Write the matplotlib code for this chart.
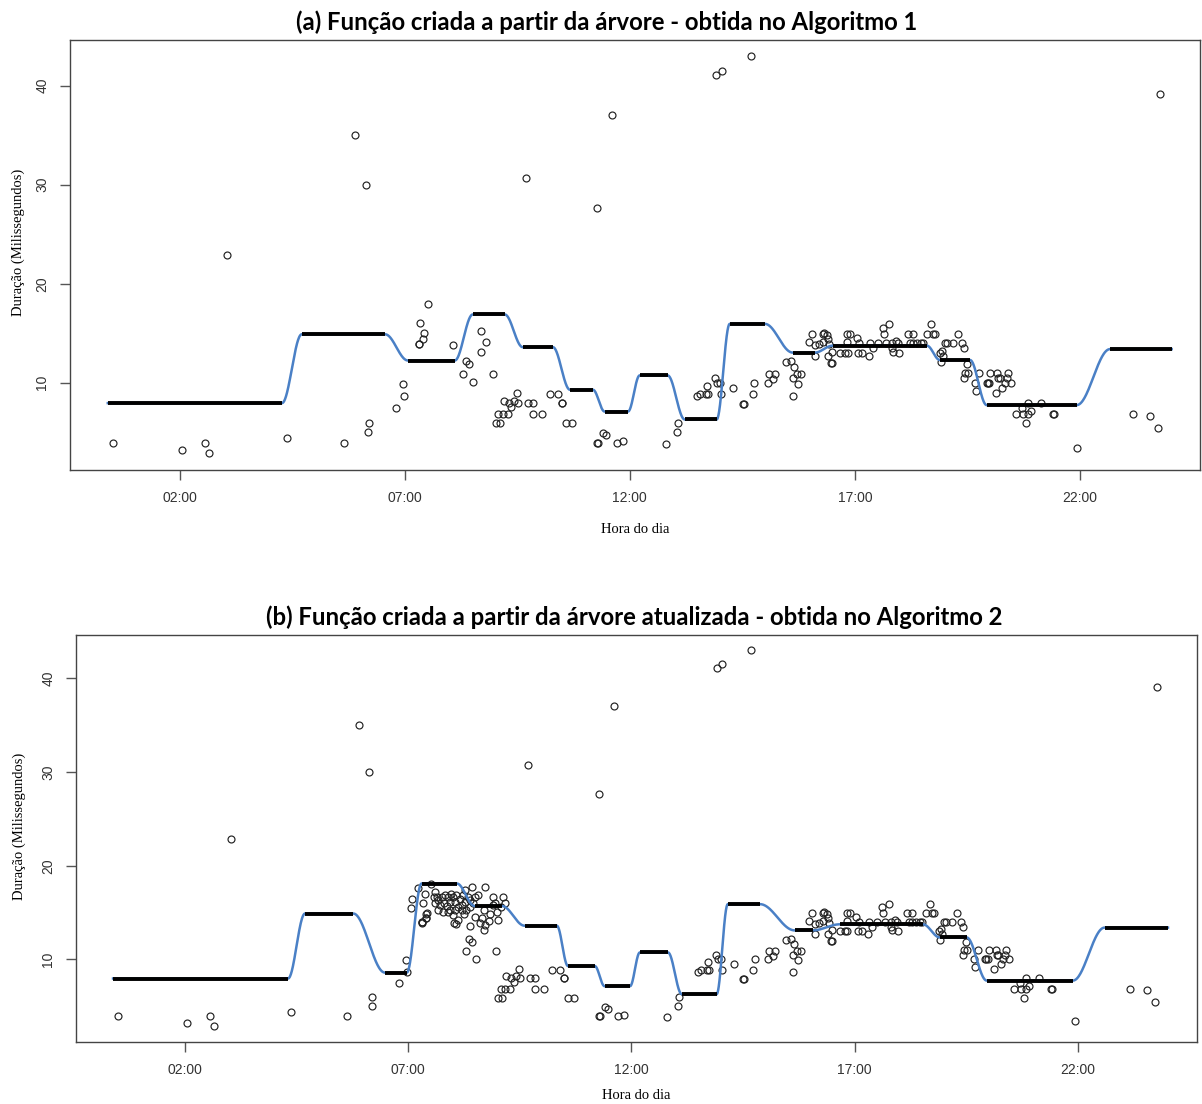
import numpy as np
import matplotlib
matplotlib.use("Agg")
import matplotlib.pyplot as plt

# ---------------------------------------------------------
# Observations: hour of day vs duration (ms)
# ---------------------------------------------------------
obs_hour = [
    0.51, 2.04, 2.56, 2.64, 3.04, 4.38, 5.64, 5.89, 6.13, 6.20, 6.18, 6.80, 6.98, 6.96,
    7.31, 7.31, 7.40, 7.42, 7.33, 7.51, 8.07,
    8.36, 8.42, 8.29, 8.51, 8.69, 8.80, 8.69, 8.96, 9.49,
    9.20, 9.31, 9.42, 9.51, 9.36, 9.07, 9.18, 9.29, 9.02, 9.11,
    9.73, 9.84, 9.84, 10.04, 10.22, 10.40, 10.49, 10.50, 10.58, 10.71,
    11.40, 11.47, 11.27, 11.29, 11.71, 11.84,
    12.80, 13.04, 13.07,
    13.49, 13.56, 13.69, 13.73, 13.71, 13.89, 13.93, 14.00, 14.02, 14.29,
    14.51, 14.53, 14.73, 14.76,
    15.07, 15.09, 15.22, 15.18,
    15.47, 15.58, 15.64, 15.62, 15.71, 15.80, 15.73, 15.62,
    16.04, 16.29, 15.98, 16.11, 16.20, 16.29, 16.40, 16.38, 16.42, 16.11, 16.40, 16.49, 16.47, 16.49, 16.31,
    16.82, 16.89, 16.82, 17.04, 17.09, 16.67, 16.78, 16.84, 17.07, 17.16, 17.31, 17.33, 17.40, 17.51,
    17.62, 17.64, 17.76, 17.69, 17.82, 17.91, 17.96, 17.84, 17.98, 17.82,
    18.18, 18.29, 18.22, 18.29, 18.38, 18.47, 18.51, 18.60, 18.69, 18.73, 18.78, 18.89, 18.93,
    19.00, 19.04, 19.18, 18.96, 19.29, 19.38, 19.42, 18.91,
    19.49, 19.44, 19.51, 19.42, 19.67, 19.69, 19.76, 19.93, 19.95, 19.98, 20.00, 20.16, 20.13,
    20.18, 20.22, 20.27, 20.33, 20.40, 20.47, 20.38,
    20.84, 21.13, 20.71, 20.58, 20.73, 20.84, 20.91, 20.80, 21.40, 21.42,
    21.93, 23.18, 23.56, 23.73, 23.78,
    9.69, 11.27, 11.60, 13.91, 14.04, 14.69,
]
obs_ms = [
    3.94, 3.23, 3.94, 2.93, 22.9, 4.44, 3.94, 35.05, 30.0, 5.96, 5.05, 7.47, 8.7, 9.9,
    13.9, 13.95, 14.4, 15.0, 16.0, 18.0, 13.8,
    12.2, 11.9, 10.9, 10.1, 15.25, 14.1, 13.1, 10.9, 9.0,
    8.2, 8.0, 8.2, 8.0, 7.6, 6.9, 6.9, 6.9, 5.9, 5.9,
    8.0, 8.0, 6.9, 6.9, 8.9, 8.9, 8.0, 8.0, 5.9, 5.9,
    4.9, 4.75, 3.94, 3.94, 3.94, 4.1,
    3.84, 5.05, 5.96,
    8.7, 8.9, 8.9, 8.9, 9.7, 10.5, 10.0, 10.0, 8.9, 9.5,
    7.9, 7.9, 8.9, 10.0,
    10.0, 10.9, 10.9, 10.4,
    12.1, 12.2, 11.6, 10.5, 10.9, 10.9, 9.9, 8.7,
    14.95, 14.95, 14.1, 13.8, 13.9, 14.1, 14.4, 14.85, 13.9, 12.7, 12.7, 13.1, 12.0, 12.0, 15.05,
    14.95, 14.95, 14.1, 14.5, 14.0, 13.0, 13.0, 13.0, 13.0, 13.0, 12.7, 14.0, 13.5, 14.0,
    15.55, 14.95, 15.96, 14.0, 14.0, 14.2, 14.0, 13.1, 13.0, 13.5,
    14.95, 14.95, 14.0, 14.0, 14.0, 14.0, 14.0, 14.95, 15.96, 14.95, 14.95, 13.0, 13.2,
    14.0, 14.0, 14.0, 12.7, 14.95, 14.0, 13.5, 12.1,
    11.9, 11.0, 11.0, 10.5, 10.0, 9.2, 11.0, 10.0, 10.0, 10.0, 11.0, 11.0, 9.0,
    10.5, 10.5, 9.5, 10.0, 11.0, 10.0, 10.5,
    8.0, 8.0, 7.5, 6.9, 6.9, 6.9, 7.2, 5.9, 6.9, 6.9,
    3.43, 6.9, 6.7, 5.45, 39.1,
    30.7, 27.6, 37.0, 41.1, 41.5, 43.0,
]

# extra morning observations used by the updated tree
new_hour = [
    7.08, 7.06, 7.21, 7.37, 7.39, 7.41, 7.30, 7.60, 7.64,
    7.58, 7.67, 7.75, 7.82, 7.90, 7.96, 8.01, 8.08, 8.16, 8.23, 8.27, 8.33, 8.38, 8.50, 8.46,
    7.60, 7.71, 7.81, 7.88, 7.93, 8.05, 8.12, 8.20, 8.27, 8.38, 7.90, 8.01, 7.78, 7.93, 8.05, 7.67,
    8.42, 8.72, 8.57, 8.90,
    8.20, 8.29, 8.26, 8.03, 8.12, 8.38, 8.50, 8.66, 8.72, 8.60, 8.83, 8.90, 8.94, 9.02, 9.09,
    9.13, 9.16, 8.98,
]
new_ms = [
    16.4, 15.5, 17.6, 17.0, 14.9, 14.4, 14.0, 17.2, 16.7,
    16.7, 16.3, 16.7, 16.9, 16.7, 17.0, 16.7, 16.9, 16.5, 16.9, 17.4, 16.7, 16.3, 16.7, 16.0,
    16.0, 15.8, 16.0, 15.7, 15.3, 15.3, 15.6, 15.8, 16.1, 15.6, 15.1, 14.7, 15.1, 16.1, 16.1, 15.3,
    17.7, 17.7, 16.9, 16.7,
    15.3, 15.3, 14.9, 13.9, 14.2, 13.6, 14.5, 14.4, 13.7, 13.9, 14.9, 15.8, 16.0, 14.2, 15.6,
    16.7, 16.0, 15.1,
]

# ---------------------------------------------------------
# Tree leaves: (start hour, end hour, predicted duration)
# ---------------------------------------------------------
a_start = [0.40, 4.71, 7.07, 8.51, 9.62, 10.67, 11.44, 12.22, 13.22, 14.22, 15.62, 16.51, 18.89, 19.93, 22.67]
a_end = [4.27, 6.56, 8.11, 9.22, 10.29, 11.18, 11.96, 12.84, 13.93, 15.00, 16.11, 18.60, 19.56, 21.93, 24.04]
a_level = [7.95, 14.9, 12.25, 16.9, 13.6, 9.3, 7.1, 10.75, 6.3, 15.95, 13.05, 13.75, 12.3, 7.75, 13.4]

b_start = [0.39, 4.69, 6.48, 7.30, 8.49, 9.61, 10.58, 11.40, 12.19, 13.13, 14.16, 15.66, 16.67, 18.91, 19.96, 22.60]
b_end = [4.31, 5.77, 6.97, 8.09, 9.10, 10.33, 11.18, 11.97, 12.82, 13.91, 14.88, 16.06, 18.53, 19.51, 21.89, 24.02]
b_level = [7.97, 14.9, 8.6, 18.1, 15.7, 13.6, 9.3, 7.15, 10.75, 6.3, 15.9, 13.1, 13.75, 12.35, 7.75, 13.4]

hour_ticks = [2, 7, 12, 17, 22]
hour_labels = ["02:00", "07:00", "12:00", "17:00", "22:00"]
ms_ticks = [10, 20, 30, 40]

titles = [
    "(a) Função criada a partir da árvore - obtida no Algoritmo 1",
    "(b) Função criada a partir da árvore atualizada - obtida no Algoritmo 2",
]

BLUE = "#4a80c6"
GRAY = "#555555"


def smooth_path(starts, ends, levels, n=60):
    # flat leaves joined by cosine ramps
    xs, ys = [], []
    for i in range(len(levels)):
        xs += [starts[i], ends[i]]
        ys += [levels[i], levels[i]]
        if i + 1 < len(levels):
            t = np.linspace(0, 1, n)[1:-1]
            w = (1 - np.cos(np.pi * t)) / 2
            xs += list(ends[i] + (starts[i + 1] - ends[i]) * t)
            ys += list(levels[i] + (levels[i + 1] - levels[i]) * w)
    return np.array(xs), np.array(ys)


def draw_panel(ax, hours, values, starts, ends, levels, title, xpad, ylab_x, title_x):
    ax.plot(hours, values, "o", ms=5, mfc="none", mec="#222222", mew=0.85, zorder=2)
    sx, sy = smooth_path(starts, ends, levels)
    ax.plot(sx, sy, color=BLUE, lw=1.8, zorder=3)
    ax.hlines(levels, starts, ends, color="black", lw=2.8, zorder=4)

    ax.set_xlim(-0.44, 24.67)
    ax.set_ylim(1.2, 44.6)
    ax.set_xticks(hour_ticks)
    ax.set_xticklabels(hour_labels, fontsize=10, color="#333333", family="Liberation Sans")
    ax.set_yticks(ms_ticks)
    ax.set_yticklabels([str(v) for v in ms_ticks], fontsize=10, color="#333333",
                       family="Liberation Sans", rotation=90, va="center")
    ax.tick_params(direction="out", length=7, width=1, color=GRAY, pad=8)
    for s in ax.spines.values():
        s.set_color("#444444")
        s.set_linewidth(1.0)
    ax.set_xlabel("Hora do dia", family="Liberation Serif", fontsize=10.5, labelpad=xpad)
    ax.set_ylabel("Duração (Milissegundos)", family="Liberation Serif", fontsize=10.5)
    ax.yaxis.set_label_coords(ylab_x, 0.53)
    ax.set_title(title, family="Lato", fontweight="bold", fontsize=17.2, pad=7, x=title_x)


W, H = 1202, 1104
fig = plt.figure(figsize=(W / 100, H / 100), dpi=100)
ax_a = fig.add_axes([70 / W, 1 - 470 / H, 1130 / W, 430 / H])
ax_b = fig.add_axes([76 / W, 1 - 1042 / H, 1121 / W, 407 / H])

draw_panel(ax_a, obs_hour, obs_ms, a_start, a_end, a_level, titles[0], 13, -0.040, 0.475)
draw_panel(ax_b, obs_hour + new_hour, obs_ms + new_ms, b_start, b_end, b_level, titles[1], 9, -0.045, 0.498)

fig.savefig("out.png", dpi=100)
